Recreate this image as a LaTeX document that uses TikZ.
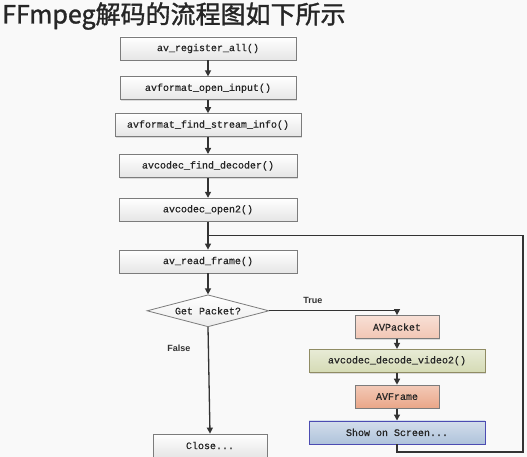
\documentclass[tikz,border=0pt]{standalone}
\usepackage{fontspec}
\setsansfont{Liberation Sans}
\setmonofont[FakeBold=0.5]{Liberation Mono}
\newfontfamily\cjk[FakeBold=1.3]{Noto Sans CJK SC}
\definecolor{flowBg}{HTML}{F9F9F9}
\definecolor{flowLine}{HTML}{333333}
\definecolor{flowBorder}{HTML}{7C7C7C}
\definecolor{packetPink}{HTML}{F2C6B4}
\definecolor{decodeGreen}{HTML}{D5DBB5}
\definecolor{framePeach}{HTML}{EAA688}
\definecolor{screenBlue}{HTML}{AFC3DB}
\usetikzlibrary{arrows.meta, positioning, shapes.geometric, shadows, calc}
\tikzset{
    call node/.style={rectangle, draw=flowBorder, top color=white, bottom color=gray!20, thick,
        minimum width=176pt, minimum height=23pt, inner sep=1pt, align=center,
        font=\ttfamily\fontsize{10}{12}\selectfont, text=black!85,
        drop shadow={shadow xshift=1.2pt, shadow yshift=-1.2pt, opacity=0.25}},
    data node/.style={call node, minimum width=84pt},
    decision node/.style={diamond, draw=flowBorder, top color=white, bottom color=gray!15, thick,
        minimum width=122pt, minimum height=32pt, aspect=3.8, inner sep=0pt,
        font=\ttfamily\fontsize{10}{12}\selectfont, text=black!85},
    arrow style/.style={-{Triangle[length=6pt, width=6pt]}, line width=1.3pt, flowLine},
    line style/.style={line width=1.3pt, flowLine},
    branch label/.style={font=\sffamily\bfseries\fontsize{9}{11}\selectfont, text=flowLine},
}
\begin{document}
\begin{tikzpicture}[x=1pt, y=-1pt]
    \fill[flowBg] (0,0) rectangle (527,457);
    \useasboundingbox (0,0) rectangle (527,457);
    \clip (0,0) rectangle (527,457);

    \node[anchor=west, font=\cjk\fontsize{25}{28}\selectfont, text=black!85, inner sep=0pt] (title) at (2,16) {FFmpeg解码的流程图如下所示};

    % main column
    \node[call node] (register) at (208,48.5) {av\_register\_all()};
    \node[call node, below=16pt of register] (openinput) {avformat\_open\_input()};
    \node[call node, below=13pt of openinput, minimum width=186pt] (streaminfo) {avformat\_find\_stream\_info()};
    \node[call node, below=17pt of streaminfo, minimum width=178pt] (finddec) {avcodec\_find\_decoder()};
    \node[call node, below=20pt of finddec, minimum width=178pt] (open2) {avcodec\_open2()};
    \node[call node, below=28pt of open2, minimum width=178pt] (readframe) {av\_read\_frame()};
    \node[decision node, below=21pt of readframe] (getpacket) {Get Packet?};
    \node[call node, minimum width=114pt] (close) at (210,445.5) {Close...};

    % decode branch
    \node[data node, top color=packetPink!55, bottom color=packetPink] (packet) at (397,327) {AVPacket};
    \node[call node, top color=decodeGreen!55, bottom color=decodeGreen, draw=gray!70!olive, below=10pt of packet] (decode) {avcodec\_decode\_video2()};
    \node[data node, top color=framePeach!60, bottom color=framePeach, below=12pt of decode] (frame) {AVFrame};
    \node[call node, top color=screenBlue!55, bottom color=screenBlue, draw=gray!60!blue, below=12pt of frame] (screen) {Show on Screen...};

    \coordinate (loopjoin) at ($(open2.south)!0.5!(readframe.north)$);
    \coordinate (loopcorner) at (523,452);

    \draw[arrow style] (register) -- (openinput);
    \draw[arrow style] (openinput) -- (streaminfo);
    \draw[arrow style] (streaminfo) -- (finddec);
    \draw[arrow style] (finddec) -- (open2);
    \draw[arrow style] (open2) -- (readframe);
    \draw[arrow style] (readframe) -- (getpacket);
    \draw[arrow style] (getpacket.east) -| node[branch label, pos=0.17, above=3pt] {True} (packet.north);
    \draw[arrow style] (getpacket.south) -- node[branch label, pos=0.2, left=14pt] {False} (close.north);
    \draw[arrow style] (packet) -- (decode);
    \draw[arrow style] (decode) -- (frame);
    \draw[arrow style] (frame) -- (screen);
    \draw[line style] (screen.south) |- (loopcorner) |- (loopjoin);
\end{tikzpicture}
\end{document}
